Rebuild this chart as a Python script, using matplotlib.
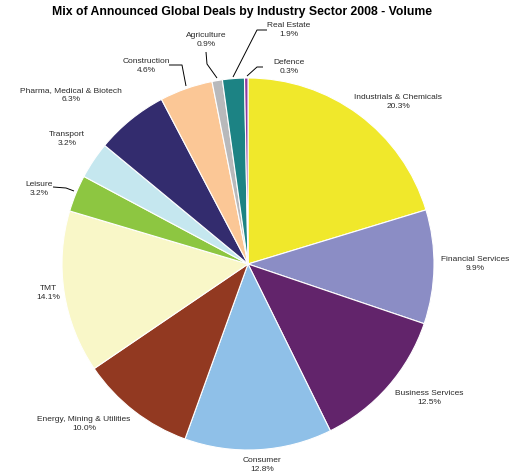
import matplotlib
matplotlib.use("Agg")
import matplotlib.pyplot as plt

# Sector share of announced deal volume, clockwise from 12 o'clock
sectors = ["Industrials & Chemicals", "Financial Services", "Business Services",
           "Consumer", "Energy, Mining & Utilities", "TMT", "Leisure", "Transport",
           "Pharma, Medical & Biotech", "Construction", "Agriculture",
           "Real Estate", "Defence"]
shares = [20.3, 9.9, 12.5, 12.8, 10.0, 14.1, 3.2, 3.2, 6.3, 4.6, 0.9, 1.9, 0.3]
colors = ["#F0E82B", "#8B8DC5", "#62246B", "#8FC0E8", "#923921", "#F9F7C8",
          "#8DC641", "#C5E7EF", "#332C6E", "#FBC796", "#B8B9BB", "#1C8384",
          "#8E3A9E"]

W, H = 516, 475
fig = plt.figure(figsize=(W / 100, H / 100), dpi=100)
ax = fig.add_axes([0, 0, 1, 1])


def up(y):
    """Convert a top-down pixel row into the upward axis coordinate."""
    return H - y


cx, cy, r = 248, up(264), 186
ax.pie(shares, colors=colors, startangle=90, counterclock=False,
       center=(cx, cy), radius=r, frame=True,
       wedgeprops=dict(edgecolor="white", linewidth=0.8))

# Label anchor points (pixel coordinates, top-down)
label_pos = [(398, 102), (475, 264), (429, 398), (262, 465), (84, 424),
             (48, 293), (39, 189), (67, 139), (71, 95), (146, 66),
             (206, 40), (289, 30), (289, 67)]

for name, val, (lx, ly) in zip(sectors, shares, label_pos):
    ax.text(lx, up(ly), f"{name}\n{val:.1f}%", ha="center", va="center",
            fontsize=6.0, family="Liberation Sans", color="#2a2a2a",
            linespacing=1.5)

# Leader lines for the small slices
leaders = [
    [(53, 187), (66, 188), (74, 191)],       # Leisure
    [(169, 65), (182, 65), (186, 86)],       # Construction
    [(206, 52), (207, 64), (217, 78)],       # Agriculture
    [(267, 30), (257, 30), (233, 77)],       # Real Estate
    [(263, 67), (257, 67), (247, 76)],       # Defence
]
for pts in leaders:
    ax.plot([p[0] for p in pts], [up(p[1]) for p in pts], color="black",
            linewidth=0.7, solid_capstyle="butt")

ax.text(242, up(11.5), "Mix of Announced Global Deals by Industry Sector 2008 - Volume",
        ha="center", va="center", fontsize=8.8, fontweight="bold",
        family="Liberation Sans", color="black")

ax.set_xlim(0, W)
ax.set_ylim(0, H)
ax.set_aspect("equal")
ax.axis("off")
fig.savefig("out.png", dpi=100)
